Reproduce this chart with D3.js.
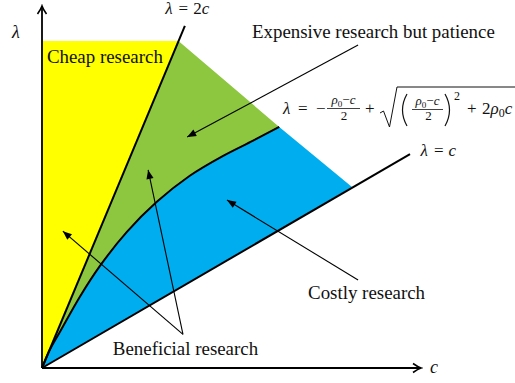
<!DOCTYPE html>
<html><head><meta charset="utf-8">
<script src="https://cdn.jsdelivr.net/npm/d3@7"></script>
<style>
html,body{margin:0;padding:0;background:#fff;}
text{font-family:"Liberation Serif","DejaVu Serif",serif;fill:#111;}
</style></head>
<body><svg id="chart" width="515" height="383"></svg>
<script>
// ---- data (arbitrary units: c on x, λ on y) ----
const curveC      = [0, 2.1, 4.9, 10.0, 15.3, 22.4, 30.3, 39.0, 47.8, 55.7, 62.6];
const curveLambda = [0, 5.1, 10.3, 19.7, 28.2, 37.6, 45.9, 53.1, 58.6, 62.8, 66.6];
const line2cEnd   = [37.7, 94.5];   // λ = 2c
const line1cEnd   = [97.1, 59.1];   // λ = c
const topLambda   = 90.3;           // upper limit of the regions
const cornerTop   = [36.0, 90.3];   // λ=2c meets the top
const cornerBlue  = [81.8, 50.0];   // diagonal meets λ=c
const regionNames = ["Cheap research", "Expensive research but patience", "Costly research", "Beneficial research"];
const regionColors = ["#ffff00", "#8dc63f", "#00aeef"];

const svg = d3.select("#chart");
const x = d3.scaleLinear().domain([0, 100]).range([42, 421]);
const y = d3.scaleLinear().domain([0, 100]).range([368, 6]);

const curvePts = curveC.map((c, i) => [c, curveLambda[i]]);
const curveGen = d3.line().x(d => x(d[0])).y(d => y(d[1])).curve(d3.curveCatmullRom.alpha(0.5));
const lineGen = d3.line().x(d => x(d[0])).y(d => y(d[1]));
const curvePath = curveGen(curvePts);

// regions
svg.append("path").attr("d", lineGen([[0,0],[0,topLambda],cornerTop]) + "Z").attr("fill", regionColors[0]);
svg.append("path").attr("d", curvePath + "L" + x(cornerTop[0]) + "," + y(cornerTop[1]) + "Z").attr("fill", regionColors[1]);
svg.append("path").attr("d", curvePath + "L" + x(cornerBlue[0]) + "," + y(cornerBlue[1]) + "Z").attr("fill", regionColors[2]);

// boundary lines
svg.append("path").attr("d", lineGen([[0,0], line2cEnd])).attr("stroke", "#000").attr("stroke-width", 2).attr("fill", "none");
svg.append("path").attr("d", lineGen([[0,0], line1cEnd])).attr("stroke", "#000").attr("stroke-width", 2).attr("fill", "none");
svg.append("path").attr("d", curvePath).attr("stroke", "#000").attr("stroke-width", 2).attr("fill", "none");

// markers
const defs = svg.append("defs");
defs.append("marker").attr("id", "axarrow").attr("viewBox", "-10 -6 12 12").attr("refX", 0).attr("refY", 0)
  .attr("markerWidth", 12).attr("markerHeight", 12).attr("markerUnits", "userSpaceOnUse").attr("orient", "auto")
  .append("path").attr("d", "M-8,-4.5 Q-3,-1 0,0 Q-3,1 -8,4.5").attr("fill", "none").attr("stroke", "#000").attr("stroke-width", 1.6);
defs.append("marker").attr("id", "tri").attr("viewBox", "-10 -5 10 10").attr("refX", 0).attr("refY", 0)
  .attr("markerWidth", 10).attr("markerHeight", 10).attr("markerUnits", "userSpaceOnUse").attr("orient", "auto")
  .append("path").attr("d", "M-9,-3.6 L0,0 L-9,3.6 Z").attr("fill", "#000");

// axes
svg.append("path").attr("d", lineGen([[0,0],[0,100]])).attr("stroke", "#000").attr("stroke-width", 1.8).attr("marker-end", "url(#axarrow)");
svg.append("path").attr("d", lineGen([[0,0],[100,0]])).attr("stroke", "#000").attr("stroke-width", 1.8).attr("marker-end", "url(#axarrow)");

// annotation arrows [from, to]
const arrows = [
  [[83.4, 89.2], [38.3, 63.8]],
  [[37.2, 9.3], [5.5, 37.8]],
  [[37.2, 9.3], [28.0, 54.7]],
  [[83.4, 24.3], [48.8, 46.4]]
];
arrows.forEach(a => {
  svg.append("path").attr("d", lineGen(a)).attr("stroke", "#000").attr("stroke-width", 1.1).attr("fill", "none").attr("marker-end", "url(#tri)");
});

// labels
const labelPos = [[1.3, 84.2], [55.4, 91.1], [70.2, 19.1], [18.7, 3.6]];
regionNames.forEach((t, i) => {
  svg.append("text").attr("x", x(labelPos[i][0])).attr("y", y(labelPos[i][1])).attr("font-size", 18.9).text(t);
});

function eqLabel(px, py, parts) {
  const t = svg.append("text").attr("x", px).attr("y", py).attr("font-size", 17);
  parts.forEach(p => {
    const s = t.append("tspan").attr("font-style", p[1] ? "italic" : "normal").text(p[0]);
    if (p[2]) s.attr("dx", p[2]);
  });
  return t;
}
eqLabel(x(32.5), 14, [["λ", true], ["=", false, 6], ["2", false, 5], ["c", true]]);
eqLabel(x(99.9), 156, [["λ", true], ["=", false, 6], ["c", true, 5]]);
svg.append("text").attr("x", 12).attr("y", 38).attr("font-size", 18).attr("font-style", "italic").text("λ");
svg.append("text").attr("x", 430).attr("y", 373).attr("font-size", 18).attr("font-style", "italic").text("c");

// formula for the curve
const f = svg.append("g");
function ftext(px, py, size, parts, anchor) {
  const t = f.append("text").attr("x", px).attr("y", py).attr("font-size", size).attr("text-anchor", anchor || "start");
  parts.forEach(p => {
    const s = t.append("tspan").text(p[0]).attr("font-style", p[1] ? "italic" : "normal");
    if (p[2]) s.attr("font-size", size * 0.7).attr("dy", 2.5);
    if (p[3]) s.attr("dy", -2.5);
  });
}
ftext(283, 114, 17, [["λ", true]]);
ftext(298, 114, 17, [["=", false]]);
ftext(316, 114, 17, [["−", false]]);
ftext(343.5, 104, 13, [["ρ", true], ["0", false, true], ["−", false, false, true], ["c", true]], "middle");
f.append("line").attr("x1", 327).attr("x2", 360).attr("y1", 108.5).attr("y2", 108.5).attr("stroke", "#111").attr("stroke-width", 0.8);
ftext(344, 120, 13, [["2", false]], "middle");
ftext(365, 114, 17, [["+", false]]);
f.append("path").attr("d", "M380,113 L383.5,111 L389.5,127 L397,87 L515,87").attr("fill", "none").attr("stroke", "#111").attr("stroke-width", 1);
f.append("path").attr("d", "M407,94 Q398,110 407,126").attr("fill", "none").attr("stroke", "#111").attr("stroke-width", 1.2);
ftext(427.5, 105, 13, [["ρ", true], ["0", false, true], ["−", false, false, true], ["c", true]], "middle");
f.append("line").attr("x1", 412).attr("x2", 443).attr("y1", 109.5).attr("y2", 109.5).attr("stroke", "#111").attr("stroke-width", 0.8);
ftext(428.5, 120, 13, [["2", false]], "middle");
f.append("path").attr("d", "M445,94 Q454,110 445,126").attr("fill", "none").attr("stroke", "#111").attr("stroke-width", 1.2);
ftext(454, 100, 12, [["2", false]]);
ftext(467, 114, 17, [["+", false]]);
ftext(482, 114, 17, [["2", false], ["ρ", true], ["0", false, true], ["c", true, false, true]]);
</script>
</body></html>
